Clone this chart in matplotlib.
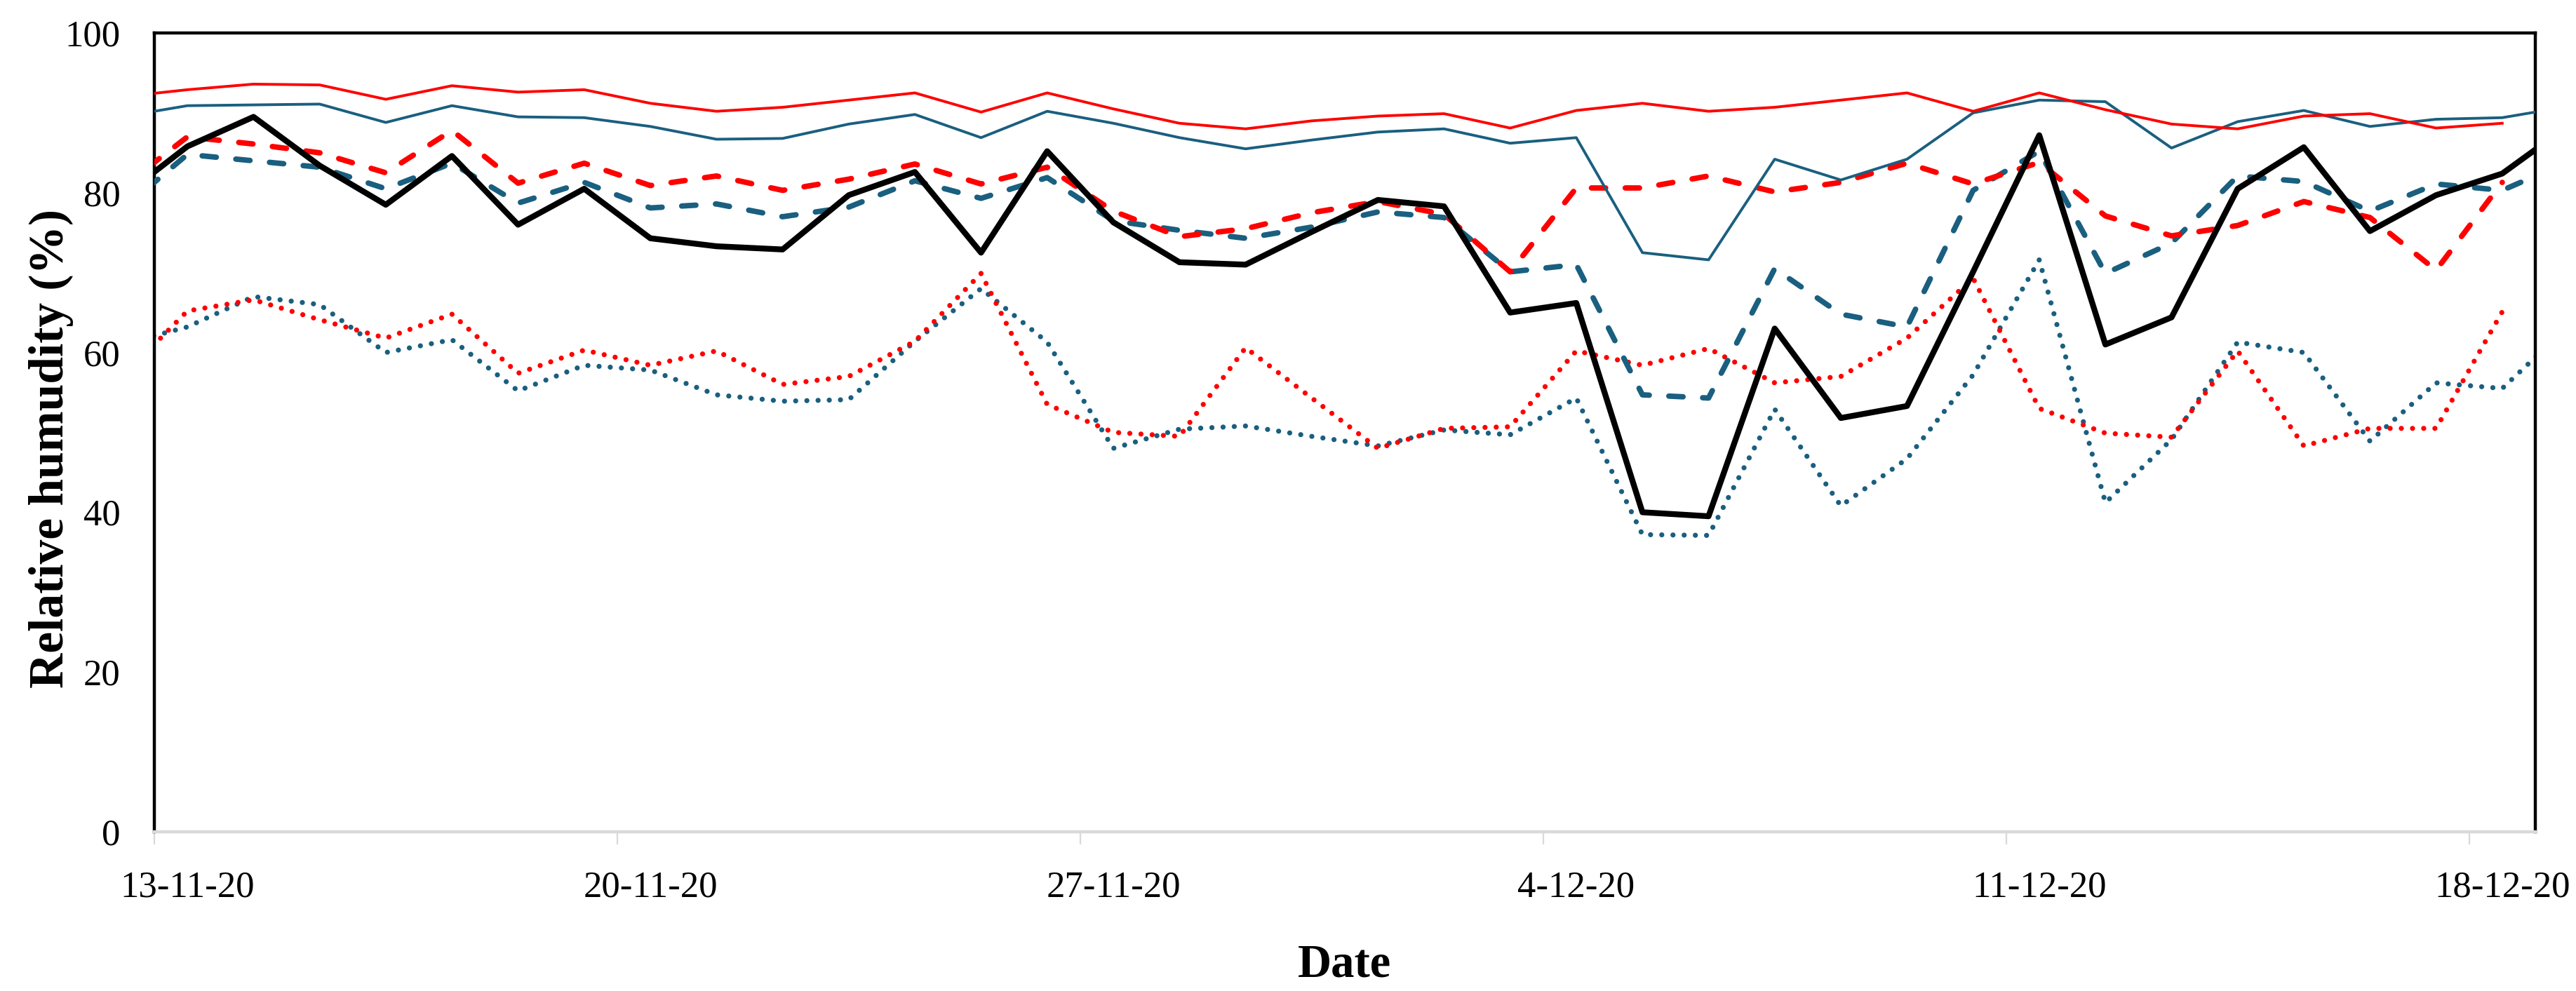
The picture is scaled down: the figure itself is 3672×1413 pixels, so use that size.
import numpy as np
import pandas as pd
import matplotlib
matplotlib.use("Agg")
import matplotlib.pyplot as plt
import matplotlib.dates as mdates

# daily values (noon), first/last points fall just outside the axis window
dates = pd.date_range("2020-11-12 12:00", periods=38, freq="D")
nan = np.nan

red_solid = [92.0, 92.9, 93.6, 93.5, 91.7, 93.4, 92.6, 92.9, 91.2, 90.2, 90.7, 91.6, 92.5,
             90.1, 92.5, 90.5, 88.7, 88.0, 89.0, 89.6, 89.9, 88.1, 90.3, 91.2, 90.2, 90.7,
             91.6, 92.5, 90.2, 92.5, 90.4, 88.6, 88.0, 89.6, 89.9, 88.1, 88.7, nan]
blue_solid = [89.5, 90.9, 91.0, 91.1, 88.8, 90.9, 89.5, 89.4, 88.3, 86.7, 86.8, 88.6, 89.8,
              86.9, 90.2, 88.7, 86.9, 85.5, 86.6, 87.6, 88.0, 86.2, 86.9, 72.5, 71.6, 84.2,
              81.6, 84.2, 90.0, 91.6, 91.4, 85.6, 88.9, 90.3, 88.3, 89.2, 89.4, 90.8]
red_dashed = [80.6, 87.0, 86.1, 85.0, 82.5, 87.8, 81.2, 83.7, 80.9, 82.1, 80.3, 81.7, 83.6,
              81.1, 83.2, 77.7, 74.5, 75.5, 77.5, 78.9, 77.3, 70.1, 80.6, 80.6, 82.1, 80.1,
              81.3, 83.7, 81.1, 83.8, 77.1, 74.6, 75.9, 78.9, 76.9, 70.3, 81.3, nan]
blue_dashed = [77.8, 84.8, 84.0, 83.2, 80.5, 83.7, 78.7, 81.3, 78.1, 78.6, 77.0, 78.2, 81.5,
               79.3, 81.9, 76.5, 75.3, 74.3, 75.7, 77.6, 76.9, 70.1, 71.0, 54.7, 54.3, 70.5,
               64.8, 63.2, 80.3, 85.2, 69.9, 73.7, 82.1, 81.4, 77.7, 81.1, 80.3, 83.9]
black = [79.4, 85.8, 89.5, 83.4, 78.5, 84.6, 76.0, 80.5, 74.3, 73.3, 72.9, 79.7, 82.6,
         72.5, 85.2, 76.3, 71.3, 71.0, 75.1, 79.1, 78.3, 65.0, 66.2, 40.0, 39.5, 63.0,
         51.8, 53.3, 70.1, 87.2, 61.0, 64.4, 80.5, 85.7, 75.2, 79.7, 82.4, 88.4]
red_dotted = [56.8, 65.2, 66.6, 64.1, 61.8, 64.8, 57.4, 60.3, 58.4, 60.2, 56.0, 57.0, 61.4,
              69.9, 53.5, 50.0, 49.5, 60.6, 54.3, 48.0, 50.5, 50.7, 60.2, 58.4, 60.5, 56.2,
              57.0, 61.8, 69.3, 53.0, 49.9, 49.4, 60.2, 48.3, 50.5, 50.5, 65.1, nan]
blue_dotted = [61.0, 63.2, 67.0, 66.0, 60.0, 61.6, 55.2, 58.4, 57.8, 54.7, 53.9, 54.1, 61.4,
               68.0, 61.3, 48.0, 50.4, 50.8, 49.5, 48.3, 50.3, 49.7, 54.3, 37.2, 37.1, 52.9,
               40.8, 46.7, 57.2, 71.6, 41.2, 49.1, 61.3, 60.0, 48.9, 56.2, 55.5, 63.3]

tick_dates = pd.to_datetime(["2020-11-13", "2020-11-20", "2020-11-27",
                             "2020-12-04", "2020-12-11", "2020-12-18"])
tick_labels = ["13-11-20", "20-11-20", "27-11-20", "4-12-20", "11-12-20", "18-12-20"]

RED = "#FF0000"
BLUE = "#1A5F7F"

fig = plt.figure(figsize=(36.72, 14.13), dpi=100)
ax = fig.add_axes([0.0599, 0.1607, 0.9243, 0.806])

dot = (0, (0.01, 2.2))
dash = (0, (2.6, 3.6))
ax.plot(dates, blue_dotted, color=BLUE, lw=5.2, ls=dot, dash_capstyle="round", zorder=2)
ax.plot(dates, red_dotted, color=RED, lw=5.2, ls=dot, dash_capstyle="round", zorder=2)
ax.plot(dates, blue_dashed, color=BLUE, lw=5.6, ls=dash, dash_capstyle="round", zorder=3)
ax.plot(dates, red_dashed, color=RED, lw=5.6, ls=dash, dash_capstyle="round", zorder=3)
ax.plot(dates, blue_solid, color=BLUE, lw=2.8, zorder=4)
ax.plot(dates, red_solid, color=RED, lw=2.8, zorder=4)
ax.plot(dates, black, color="black", lw=6.0, zorder=5)

ax.set_xlim(pd.Timestamp("2020-11-13"), pd.Timestamp("2020-12-19"))
ax.set_ylim(0, 100)
ax.set_yticks(range(0, 101, 20))

# tick marks on the dates, labels shifted half a day to the right
ax.set_xticks(tick_dates)
ax.set_xticklabels([])
ax.set_xticks(tick_dates + pd.Timedelta(hours=12), minor=True)
ax.set_xticklabels(tick_labels, minor=True)
ax.tick_params(axis="x", which="major", length=13, width=1.6, color="#D9D9D9")
ax.tick_params(axis="x", which="minor", length=0, pad=40)
ax.tick_params(axis="y", length=0, pad=35)

for lab in ax.get_xticklabels(minor=True) + ax.get_yticklabels():
    lab.set_fontfamily("Liberation Serif")
    lab.set_fontsize(38)

for side in ["left", "top", "right"]:
    ax.spines[side].set_linewidth(3.2)
    ax.spines[side].set_color("black")
ax.spines["bottom"].set_linewidth(3.2)
ax.spines["bottom"].set_color("#D9D9D9")
ax.spines["bottom"].set_zorder(6)

ax.set_xlabel("Date", fontfamily="Liberation Serif", fontweight="bold", fontsize=48, labelpad=40)
ax.set_ylabel("Relative humudity (%)", fontfamily="Liberation Serif", fontweight="bold",
              fontsize=50)
ax.yaxis.set_label_coords(-0.034, 0.48)

fig.savefig("out.png", dpi=100)
